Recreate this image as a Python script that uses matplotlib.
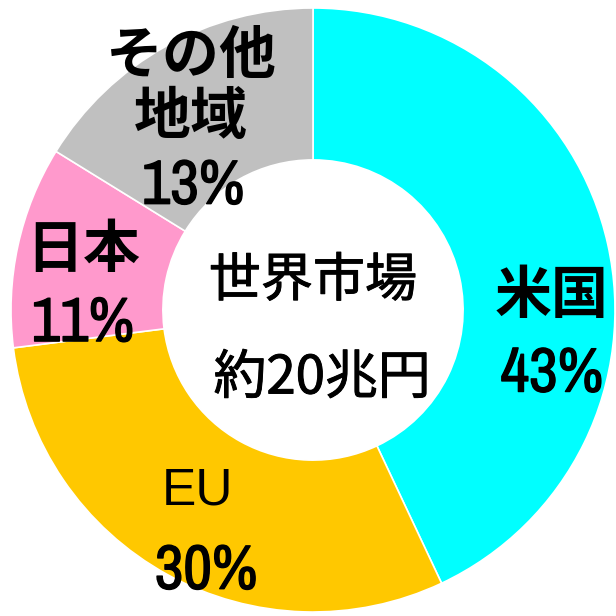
import matplotlib
matplotlib.use("Agg")
import matplotlib.pyplot as plt
import matplotlib.patheffects as pe

# 世界市場の地域別シェア (slice sizes, labels as printed)
regions = ["米国", "EU", "日本", "その他\n地域"]
shares = [43, 30, 10.8, 16.2]
pct_labels = ["43%", "30%", "11%", "13%"]
colors = ["#00FFFF", "#FFC800", "#FF99CC", "#C0C0C0"]
center_text = ["世界市場", "約20兆円"]

jp = ["Noto Sans CJK JP", "DejaVu Sans"]
narrow = ["Archivo Narrow", "Liberation Sans", "DejaVu Sans"]
thick = [pe.withStroke(linewidth=1.0, foreground="black")]
thin = [pe.withStroke(linewidth=0.7, foreground="black")]

fig = plt.figure(figsize=(6.16, 6.16), dpi=100)
ax = fig.add_axes([0, 0, 1, 1])

ax.pie(shares, colors=colors, startangle=90, counterclock=False, radius=1.0,
       wedgeprops=dict(width=0.503, edgecolor="white", linewidth=1.2))

ax.set_xlim(-313 / 302, (616 - 313) / 302)
ax.set_ylim(-(616 - 310) / 302, 310 / 302)
ax.set_aspect("equal")
ax.axis("off")

# label placement per slice (name position, percent position)
name_pos = [(0.791, 0.045), (-0.384, -0.598), (-0.762, 0.200), (-0.404, 0.740)]
pct_pos = [(0.791, -0.212), (-0.354, -0.865), (-0.762, -0.045), (-0.397, 0.410)]

for i, name in enumerate(regions):
    if name == "EU":
        ax.text(*name_pos[i], name, ha="center", va="center", fontsize=37,
                family=["Liberation Sans", "DejaVu Sans"])
    else:
        ax.text(*name_pos[i], name, ha="center", va="center", fontsize=41,
                fontweight="bold", family=jp, linespacing=1.05)
    ax.text(*pct_pos[i], pct_labels[i], ha="center", va="center", fontsize=45,
            family=narrow, path_effects=thick)

ax.text(0, 0.095, center_text[0], ha="center", va="center", fontsize=37.5,
        family=jp, path_effects=thin)
ax.text(0.03, -0.225, center_text[1], ha="center", va="center", fontsize=38,
        family=jp, path_effects=thin)

fig.savefig("out.png", dpi=100)
